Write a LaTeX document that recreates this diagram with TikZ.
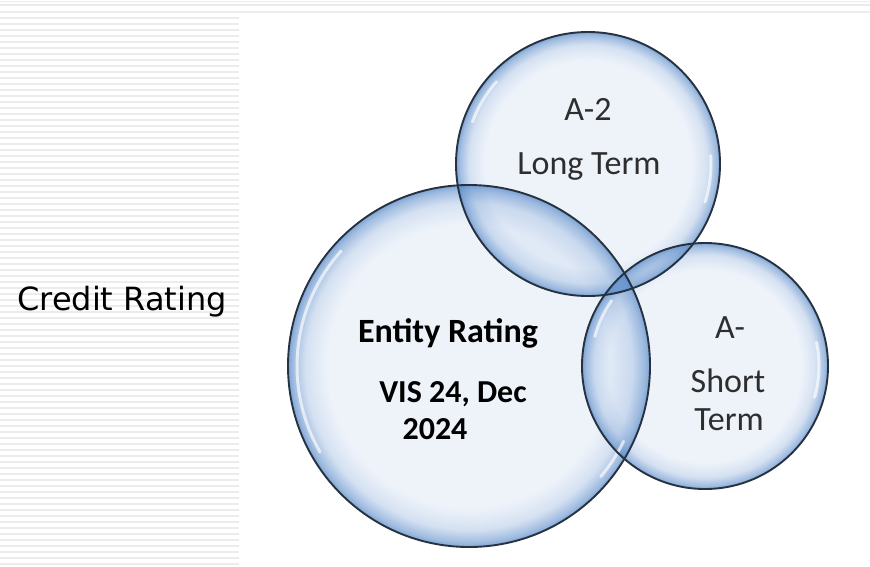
\documentclass[tikz,border=0pt]{standalone}
\usepackage{fontspec}
\setmainfont{Carlito}
\newfontfamily\sidefont{DejaVu Sans}
\usetikzlibrary{fadings}
\definecolor{bubbleblue}{RGB}{170,195,230}
\definecolor{rimblue}{RGB}{80,132,198}
\definecolor{rimline}{RGB}{38,50,64}
\definecolor{stripegray}{RGB}{236,236,236}
\pgfdeclareradialshading{rimshade}{\pgfpointorigin}{color(0bp)=(black); color(19.5bp)=(black); color(22.5bp)=(black!84!white); color(24.2bp)=(black!52!white); color(25bp)=(black!28!white); color(50bp)=(black!28!white)}
\pgfdeclarefading{rimfade}{\pgfuseshading{rimshade}}
\tikzset{
  bubble/.style={fill=bubbleblue, fill opacity=0.2},
  bubblerim/.style={fill=rimblue, path fading=rimfade},
  bubbleline/.style={draw=rimline, line width=1.9pt},
  shine/.style={draw=white, line width=3pt, line cap=round, opacity=0.65},
  bubbletext/.style={anchor=base, font=\fontsize{34}{40}\selectfont, text=black!82},
  stripe/.style={fill=stripegray}
}
\begin{document}
\begin{tikzpicture}
[x=1pt,y=-1pt]
\useasboundingbox (0,0) rectangle (870,566);
% striped background
\foreach \y in {0.8,4.3,11} {
  \fill[stripe] (0,\y) rectangle (870,\y+1.6);
}
\foreach \y in {16.5,22.5,...,564} {
  \fill[stripe] (0,\y) rectangle (239,\y+2.2);
}
\node[anchor=base, font=\sidefont\fontsize{32}{38}\selectfont] (creditrating) at (122,310) {Credit Rating};
% bubbles
\coordinate (entity) at (469,366);
\coordinate (longterm) at (588,164);
\coordinate (shortterm) at (705,366);
\fill[bubble] (entity) circle[radius=181];
\fill[bubble] (longterm) circle[radius=132];
\fill[bubble] (shortterm) circle[radius=123];
\fill[bubblerim] (entity) circle[radius=181];
\fill[bubblerim] (longterm) circle[radius=132];
\fill[bubblerim] (shortterm) circle[radius=123];
% highlights
\draw[shine] (entity) ++(150:172) arc[start angle=150, end angle=222, radius=172];
\draw[shine] (entity) ++(26:172) arc[start angle=26, end angle=40, radius=172];
\draw[shine] (longterm) ++(200:123) arc[start angle=200, end angle=222, radius=123];
\draw[shine] (longterm) ++(-4:123) arc[start angle=-4, end angle=18, radius=123];
\draw[shine] (shortterm) ++(-12:114) arc[start angle=-12, end angle=16, radius=114];
\draw[shine] (shortterm) ++(195:114) arc[start angle=195, end angle=215, radius=114];
\draw[bubbleline] (entity) circle[radius=181];
\draw[bubbleline] (longterm) circle[radius=132];
\draw[bubbleline] (shortterm) circle[radius=123];
% labels
\node[bubbletext] (longgrade) at (588,120) {A-2};
\node[bubbletext] (longlabel) at (589,174) {Long Term};
\node[bubbletext] (shortgrade) at (730,338) {A-};
\node[bubbletext] (shortlabel) at (728,392) {Short};
\node[bubbletext] (shortlabel2) at (729,430) {Term};
\node[bubbletext, font=\bfseries\fontsize{34}{40}\selectfont, text=black] (entitylabel) at (448,342) {Entity Rating};
\node[bubbletext, font=\bfseries\fontsize{32}{38}\selectfont, text=black] (entitydate) at (453,402) {VIS 24, Dec};
\node[bubbletext, font=\bfseries\fontsize{32}{38}\selectfont, text=black] (entityyear) at (435,439) {2024};
\end{tikzpicture}
\end{document}
